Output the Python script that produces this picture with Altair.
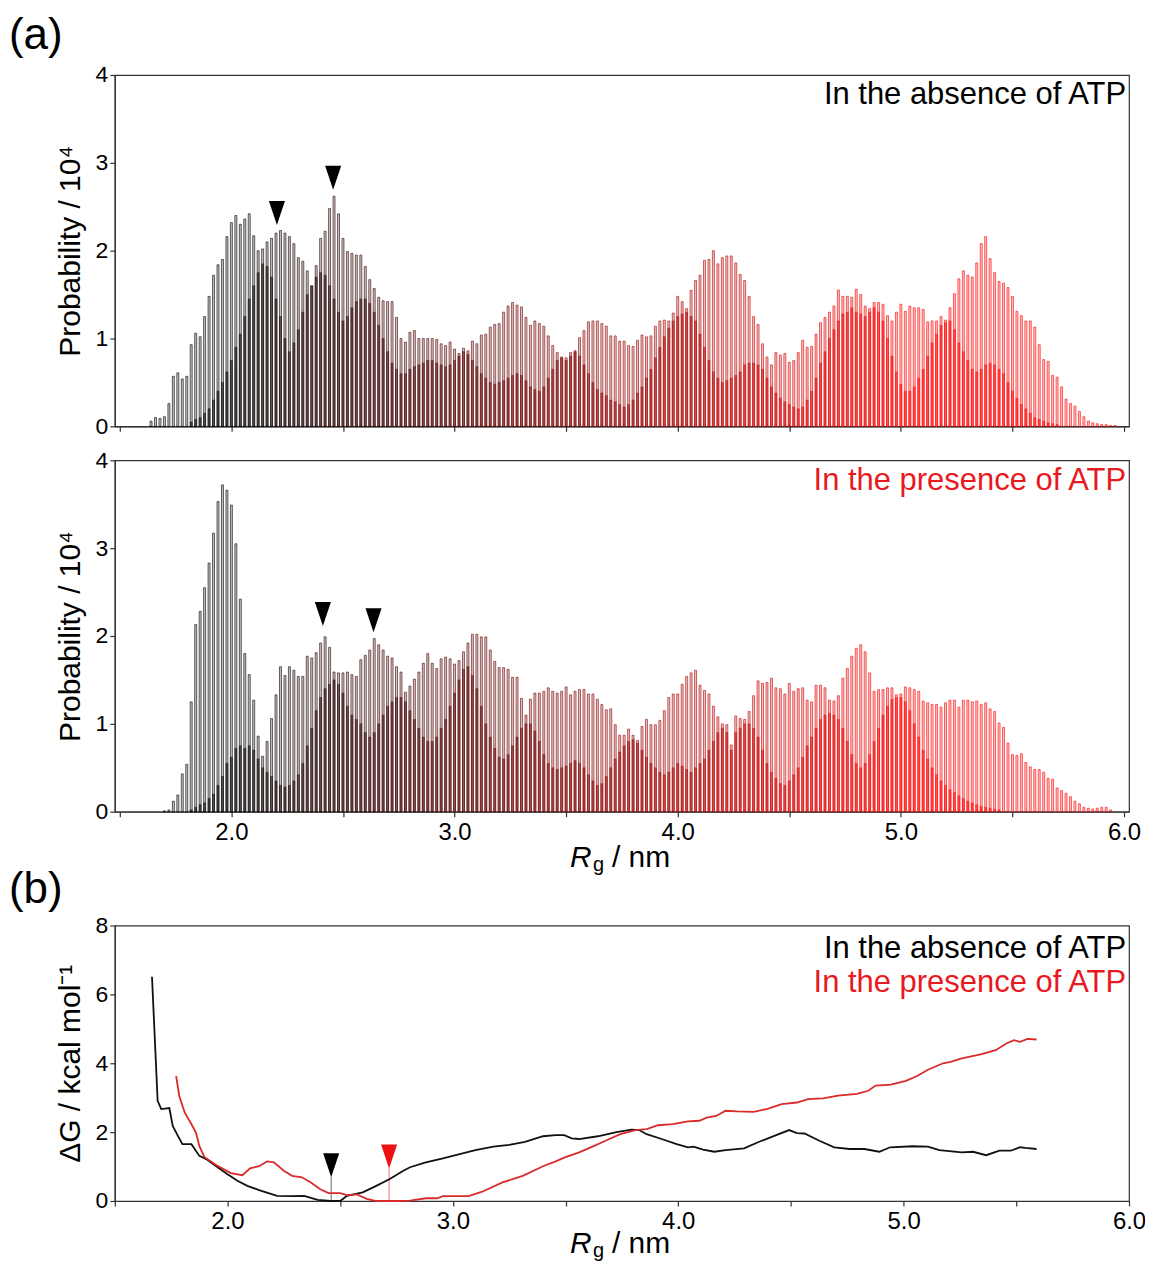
import altair as alt
import pandas as pd

FONT = "Liberation Sans"
W = 1016
H_HIST = 352
H_DG = 276

# ---------------- data ----------------
BIN_WIDTH = 0.02
TOP_START = 1.64   # first bin centre (nm), panel "absence of ATP"
MID_START = 1.70   # first bin centre (nm), panel "presence of ATP"

# tallest bar in every bin (probability / 1e4)
TOP_ENV = [
    0.06, 0.10, 0.09, 0.11, 0.26, 0.57, 0.61, 0.54, 0.57, 0.93,   # 1.64
    1.06, 1.02, 1.25, 1.48, 1.72, 1.84, 1.90, 2.16, 2.32, 2.40,   # 1.84
    2.30, 2.36, 2.42, 2.17, 2.00, 2.02, 2.10, 2.14, 2.20, 2.23,   # 2.04
    2.20, 2.16, 2.08, 1.92, 1.88, 1.77, 1.60, 1.83, 2.14, 2.22,   # 2.24
    2.48, 2.62, 2.42, 2.14, 1.99, 1.97, 1.95, 1.95, 1.82, 1.67,   # 2.44
    1.57, 1.47, 1.43, 1.42, 1.42, 1.24, 1.00, 0.96, 1.07, 1.09,   # 2.64
    1.00, 1.00, 1.00, 1.00, 0.99, 0.94, 0.92, 0.96, 0.88, 0.83,   # 2.84
    0.89, 0.86, 0.97, 0.94, 1.04, 1.05, 1.13, 1.16, 1.17, 1.30,   # 3.04
    1.37, 1.41, 1.38, 1.36, 1.24, 1.15, 1.20, 1.17, 1.14, 1.03,   # 3.24
    0.92, 0.84, 0.79, 0.78, 0.84, 0.86, 1.01, 1.09, 1.19, 1.20,   # 3.44
    1.20, 1.17, 1.14, 1.03, 1.03, 0.97, 0.97, 0.92, 0.91, 0.98,   # 3.64
    1.04, 1.02, 1.03, 1.14, 1.20, 1.21, 1.20, 1.29, 1.48, 1.42,   # 3.84
    1.34, 1.55, 1.66, 1.72, 1.89, 1.90, 2.00, 1.85, 1.92, 1.94,   # 4.04
    1.94, 1.86, 1.73, 1.66, 1.48, 1.25, 1.16, 0.94, 0.79, 0.70,   # 4.24
    0.84, 0.81, 0.83, 0.73, 0.75, 0.84, 0.98, 0.90, 0.91, 1.05,   # 4.44
    1.18, 1.24, 1.30, 1.37, 1.55, 1.48, 1.48, 1.47, 1.56, 1.50,   # 4.64
    1.37, 1.34, 1.41, 1.41, 1.39, 1.26, 1.20, 1.30, 1.39, 1.31,   # 4.84
    1.37, 1.35, 1.35, 1.33, 1.19, 1.20, 1.20, 1.25, 1.21, 1.35,   # 5.04
    1.51, 1.68, 1.77, 1.72, 1.70, 1.86, 2.08, 2.16, 1.91, 1.75,   # 5.24
    1.65, 1.63, 1.58, 1.48, 1.31, 1.26, 1.20, 1.20, 1.13, 0.93,   # 5.44
    0.76, 0.74, 0.58, 0.56, 0.45, 0.31, 0.26, 0.23, 0.17, 0.11,   # 5.64
    0.06, 0.04, 0.03, 0.02, 0.02, 0.01, 0.01,                     # 5.84
]
# height of the darker, overlapped part of every bin
TOP_IN = [
    0, 0, 0, 0, 0, 0, 0, 0, 0, 0.05,
    0.08, 0.10, 0.15, 0.20, 0.30, 0.40, 0.50, 0.62, 0.75, 0.90,
    1.05, 1.25, 1.45, 1.60, 1.75, 1.85, 1.82, 1.70, 1.45, 1.25,
    1.00, 0.85, 0.95, 1.10, 1.30, 1.50, 1.60, 1.70, 1.75, 1.72,
    1.60, 1.45, 1.30, 1.20, 1.25, 1.35, 1.42, 1.45, 1.45, 1.40,
    1.30, 1.15, 1.00, 0.85, 0.72, 0.65, 0.60, 0.60, 0.65, 0.68,
    0.70, 0.72, 0.75, 0.75, 0.72, 0.70, 0.68, 0.70, 0.75, 0.80,
    0.85, 0.82, 0.75, 0.68, 0.60, 0.55, 0.50, 0.48, 0.50, 0.52,
    0.55, 0.58, 0.60, 0.58, 0.52, 0.45, 0.42, 0.40, 0.45, 0.55,
    0.65, 0.75, 0.78, 0.75, 0.80, 0.85, 0.80, 0.70, 0.60, 0.50,
    0.42, 0.38, 0.35, 0.30, 0.28, 0.25, 0.22, 0.25, 0.30, 0.38,
    0.45, 0.55, 0.65, 0.78, 0.90, 1.02, 1.12, 1.20, 1.25, 1.28,
    1.30, 1.25, 1.20, 1.05, 0.90, 0.75, 0.62, 0.55, 0.50, 0.52,
    0.55, 0.58, 0.62, 0.70, 0.72, 0.72, 0.70, 0.65, 0.55, 0.45,
    0.38, 0.32, 0.28, 0.25, 0.22, 0.20, 0.22, 0.30, 0.40, 0.55,
    0.72, 0.85, 1.00, 1.10, 1.20, 1.28, 1.30, 1.35, 1.30, 1.28,
    1.25, 1.30, 1.35, 1.30, 1.20, 1.00, 0.80, 0.62, 0.48, 0.40,
    0.40, 0.45, 0.55, 0.65, 0.80, 0.95, 1.05, 1.15, 1.18, 1.20,
    1.10, 0.95, 0.85, 0.75, 0.65, 0.62, 0.65, 0.70, 0.72, 0.70,
    0.65, 0.60, 0.50, 0.40, 0.32, 0.25, 0.20, 0.15, 0.10, 0.08,
    0.06, 0.04, 0.03, 0.02, 0, 0, 0, 0, 0, 0,
    0, 0, 0, 0, 0, 0, 0,
]
MID_ENV = [
    0.01, 0.02, 0.12, 0.19, 0.43, 0.54, 1.25, 2.13, 2.28, 2.55,   # 1.70
    2.83, 3.17, 3.53, 3.72, 3.66, 3.49, 3.05, 2.42, 1.80, 1.56,   # 1.90
    1.27, 0.86, 0.63, 0.80, 1.06, 1.33, 1.65, 1.55, 1.65, 1.61,   # 2.10
    1.54, 1.54, 1.77, 1.75, 1.81, 1.92, 1.99, 1.87, 1.59, 1.58,   # 2.30
    1.58, 1.59, 1.56, 1.54, 1.73, 1.78, 1.84, 1.97, 1.90, 1.84,   # 2.50
    1.77, 1.75, 1.65, 1.59, 1.36, 1.43, 1.51, 1.59, 1.69, 1.80,   # 2.70
    1.69, 1.63, 1.74, 1.76, 1.74, 1.68, 1.72, 1.82, 1.92, 2.02,   # 2.90
    2.02, 1.99, 1.99, 1.84, 1.71, 1.64, 1.64, 1.62, 1.53, 1.53,   # 3.10
    1.29, 1.10, 1.28, 1.35, 1.35, 1.37, 1.41, 1.37, 1.35, 1.37,   # 3.30
    1.42, 1.33, 1.37, 1.39, 1.39, 1.34, 1.34, 1.28, 1.22, 1.16,   # 3.50
    1.17, 0.99, 0.87, 0.87, 0.94, 0.87, 0.81, 0.97, 1.05, 0.99,   # 3.70
    0.99, 1.04, 1.15, 1.30, 1.34, 1.34, 1.45, 1.54, 1.58, 1.61,   # 3.90
    1.44, 1.38, 1.34, 1.20, 1.08, 1.00, 0.99, 0.76, 1.09, 1.06,   # 4.10
    1.05, 1.14, 1.32, 1.49, 1.46, 1.47, 1.52, 1.41, 1.40, 1.34,   # 4.30
    1.46, 1.37, 1.40, 1.41, 1.27, 1.25, 1.44, 1.44, 1.41, 1.27,   # 4.50
    1.26, 1.32, 1.52, 1.63, 1.77, 1.86, 1.90, 1.82, 1.58, 1.37,   # 4.70
    1.39, 1.39, 1.41, 1.41, 1.33, 1.34, 1.42, 1.41, 1.39, 1.37,   # 4.90
    1.26, 1.24, 1.22, 1.22, 1.19, 1.24, 1.27, 1.27, 1.19, 1.27,   # 5.10
    1.27, 1.25, 1.26, 1.22, 1.24, 1.17, 1.14, 1.01, 0.96, 0.78,   # 5.30
    0.65, 0.64, 0.66, 0.56, 0.51, 0.48, 0.48, 0.45, 0.38, 0.37,   # 5.50
    0.27, 0.24, 0.21, 0.17, 0.12, 0.09, 0.05, 0.04, 0.03, 0.04,   # 5.70
    0.05, 0.05, 0.02,                                             # 5.90
]
MID_IN = [
    0, 0, 0, 0, 0, 0, 0.02, 0.05, 0.08, 0.10,
    0.15, 0.20, 0.30, 0.40, 0.55, 0.62, 0.72, 0.75, 0.72, 0.75,
    0.70, 0.60, 0.50, 0.45, 0.40, 0.35, 0.30, 0.28, 0.30, 0.35,
    0.42, 0.55, 0.75, 0.95, 1.15, 1.30, 1.40, 1.45, 1.50, 1.45,
    1.35, 1.20, 1.10, 1.05, 1.00, 0.90, 0.85, 0.90, 1.00, 1.10,
    1.20, 1.25, 1.30, 1.30, 1.25, 1.15, 1.05, 0.95, 0.85, 0.80,
    0.80, 0.85, 0.95, 1.05, 1.20, 1.35, 1.50, 1.62, 1.65, 1.55,
    1.40, 1.20, 1.00, 0.85, 0.72, 0.62, 0.60, 0.65, 0.75, 0.85,
    0.95, 1.00, 1.00, 0.92, 0.80, 0.65, 0.55, 0.50, 0.48, 0.50,
    0.52, 0.55, 0.58, 0.55, 0.50, 0.42, 0.35, 0.30, 0.32, 0.40,
    0.50, 0.60, 0.68, 0.75, 0.80, 0.82, 0.78, 0.70, 0.62, 0.55,
    0.50, 0.45, 0.42, 0.45, 0.50, 0.55, 0.52, 0.48, 0.45, 0.50,
    0.55, 0.60, 0.70, 0.80, 0.90, 0.95, 0.90, 0.70, 0.90, 0.95,
    1.00, 1.00, 0.95, 0.85, 0.70, 0.55, 0.45, 0.38, 0.32, 0.30,
    0.35, 0.42, 0.50, 0.62, 0.75, 0.85, 0.95, 1.05, 1.10, 1.12,
    1.10, 1.05, 0.95, 0.80, 0.65, 0.55, 0.50, 0.55, 0.65, 0.80,
    0.95, 1.10, 1.20, 1.28, 1.30, 1.30, 1.25, 1.15, 1.00, 0.85,
    0.70, 0.60, 0.50, 0.42, 0.35, 0.30, 0.25, 0.22, 0.18, 0.15,
    0.12, 0.10, 0.08, 0.06, 0.05, 0.04, 0.03, 0.02, 0, 0,
    0, 0, 0, 0, 0, 0, 0, 0, 0, 0,
    0, 0, 0, 0, 0, 0, 0, 0, 0, 0,
    0, 0, 0,
]

# free-energy profiles (kcal/mol)
DG_ABS_X = [1.665, 1.69, 1.706, 1.742, 1.757, 1.78, 1.80, 1.84, 1.875, 1.91,
            1.956, 2.0, 2.044, 2.088, 2.147, 2.22, 2.28, 2.34, 2.40, 2.456,
            2.50, 2.53, 2.60, 2.66, 2.72, 2.78, 2.81, 2.88, 2.956, 3.03,
            3.10, 3.18, 3.25, 3.32, 3.40, 3.456, 3.494, 3.527, 3.56, 3.643,
            3.726, 3.793, 3.826, 3.86, 3.926, 3.993, 4.043, 4.068, 4.11, 4.16,
            4.21, 4.292, 4.359, 4.426, 4.492, 4.526, 4.56, 4.626, 4.692, 4.76,
            4.826, 4.892, 4.94, 5.04, 5.108, 5.158, 5.258, 5.308, 5.366, 5.425,
            5.475, 5.516, 5.54, 5.59]
DG_ABS_Y = [6.51, 2.91, 2.67, 2.70, 2.18, 1.89, 1.65, 1.65, 1.31, 1.20,
            0.98, 0.78, 0.59, 0.44, 0.30, 0.15, 0.14, 0.15, 0.03, 0.0,
            0.0, 0.15, 0.25, 0.44, 0.64, 0.88, 0.98, 1.12, 1.24, 1.36,
            1.48, 1.58, 1.63, 1.72, 1.88, 1.91, 1.91, 1.82, 1.80, 1.88,
            2.00, 2.07, 2.06, 1.94, 1.80, 1.65, 1.56, 1.58, 1.49, 1.43,
            1.48, 1.53, 1.72, 1.89, 2.06, 1.97, 1.96, 1.75, 1.56, 1.51,
            1.51, 1.43, 1.56, 1.59, 1.58, 1.48, 1.41, 1.43, 1.33, 1.46,
            1.46, 1.56, 1.54, 1.51]
DG_PRES_X = [1.772, 1.786, 1.81, 1.84, 1.86, 1.875, 1.897, 1.956, 2.015, 2.066,
             2.10, 2.14, 2.176, 2.206, 2.25, 2.287, 2.33, 2.37, 2.41, 2.448,
             2.50, 2.53, 2.574, 2.618, 2.66, 2.765, 2.81, 2.88, 2.93, 2.956,
             3.07, 3.13, 3.22, 3.31, 3.40, 3.456, 3.494, 3.56, 3.627, 3.677,
             3.743, 3.81, 3.86, 3.91, 3.976, 4.043, 4.093, 4.126, 4.168, 4.21,
             4.26, 4.334, 4.392, 4.459, 4.526, 4.576, 4.642, 4.709, 4.793, 4.843,
             4.876, 4.943, 5.01, 5.06, 5.108, 5.175, 5.208, 5.258, 5.342, 5.408,
             5.458, 5.49, 5.516, 5.55, 5.59]
DG_PRES_Y = [3.63, 3.05, 2.57, 2.23, 1.99, 1.60, 1.28, 1.02, 0.81, 0.75,
             0.95, 1.01, 1.15, 1.12, 0.88, 0.73, 0.69, 0.54, 0.35, 0.23,
             0.23, 0.17, 0.19, 0.06, 0.0, 0.0, 0.01, 0.08, 0.08, 0.14,
             0.14, 0.27, 0.54, 0.73, 1.01, 1.15, 1.26, 1.41, 1.60, 1.75,
             1.94, 2.06, 2.09, 2.20, 2.23, 2.31, 2.33, 2.42, 2.47, 2.62,
             2.60, 2.59, 2.67, 2.81, 2.86, 2.96, 2.98, 3.06, 3.11, 3.20,
             3.35, 3.38, 3.49, 3.63, 3.81, 4.00, 4.04, 4.14, 4.26, 4.38,
             4.58, 4.67, 4.62, 4.71, 4.69]

# arrowheads (data coordinates of their centres)
TOP_ARROW_X = [2.204, 2.456]
TOP_ARROW_Y = [2.43, 2.83]
MID_ARROW_X = [2.41, 2.637]
MID_ARROW_Y = [2.25, 2.18]
DG_ARROW_X = [2.46, 2.717]
DG_ARROW_Y = [1.04, 1.29]
DG_ARROW_STEM = [0.70, 0.96]
DG_ARROW_COLOR = ["#000000", "#ee1111"]

X_TICKS = [1.5, 2.0, 2.5, 3.0, 3.5, 4.0, 4.5, 5.0, 5.5, 6.0]
RED = "#e8191f"
LINE_RED = "#d92b2b"
TRI = "M-0.67,-1L0.67,-1L0,1Z"

# ---------------- helpers ----------------
ONE = pd.DataFrame({"k": [0]})
XSCALE = alt.Scale(domain=[1.5, 6.0], nice=False, zero=False)
CSCALE = alt.Scale(domain=[2.0, 5.0], range=["#000000", "#ff0000"],
                   interpolate="rgb", clamp=True)


def x_axis(show_labels):
    return alt.Axis(values=X_TICKS, labels=show_labels, title=None, grid=False,
                    labelExpr="datum.value % 1 == 0 ? format(datum.value, '.1f') : ''",
                    tickSize=5, labelPadding=4, labelFontSize=24,
                    labelFlush=False, labelOverlap=False)


def y_axis(title, values):
    return alt.Axis(values=values, title=title, grid=False, format="d",
                    tickSize=5, labelPadding=2, labelFontSize=23,
                    titleFontSize=30, titleFontWeight="normal", titlePadding=10)


def text(t, x, y, size, color="#000000", align="left", **kw):
    return alt.Chart(ONE).mark_text(text=t, align=align, baseline="alphabetic",
                                    font=FONT, fontSize=size, color=color, **kw
                                    ).encode(x=alt.value(x), y=alt.value(y))


def rg_title(y):
    return [text("R", 456, y, 30, fontStyle="italic"),
            text("g", 479, y + 4, 20),
            text("/ nm", 498, y, 30)]


def hist_panel(env, inner, start, show_labels, arrows_x, arrows_y, extra):
    xs = [round(start + BIN_WIDTH * i, 2) for i in range(len(env))]
    env_df = pd.DataFrame({"rg": xs, "p": env})
    in_df = pd.DataFrame({"rg": xs, "p": inner})
    enc = dict(
        x=alt.X("rg:Q", scale=XSCALE, axis=x_axis(show_labels)),
        y=alt.Y("p:Q", scale=alt.Scale(domain=[0, 4], nice=False),
                axis=y_axis("Probability / 10⁴", [0, 1, 2, 3, 4])),
        fill=alt.Fill("rg:Q", scale=CSCALE, legend=None),
        stroke=alt.Stroke("rg:Q", scale=CSCALE, legend=None),
    )
    env_layer = alt.Chart(env_df).transform_filter("datum.p > 0").mark_bar(
        orient="vertical", width=2.0, fillOpacity=0.25, strokeWidth=0.7,
        strokeOpacity=0.85).encode(**enc)
    in_layer = alt.Chart(in_df).transform_filter("datum.p > 0").mark_bar(
        orient="vertical", width=2.0, fillOpacity=0.55, strokeWidth=0.7,
        strokeOpacity=0.6).encode(x="rg:Q", y="p:Q",
                                  fill=alt.Fill("rg:Q", scale=CSCALE, legend=None),
                                  stroke=alt.Stroke("rg:Q", scale=CSCALE, legend=None))
    tri = alt.Chart(pd.DataFrame({"rg": arrows_x, "p": arrows_y})).mark_point(
        shape=TRI, size=576, filled=True, color="#000000", opacity=1
    ).encode(x="rg:Q", y="p:Q")
    return alt.layer(env_layer, in_layer, tri, *extra).properties(width=W, height=H_HIST)


top = hist_panel(TOP_ENV, TOP_IN, TOP_START, False, TOP_ARROW_X, TOP_ARROW_Y,
                 [text("(a)", -106, -26, 44),
                  text("In the absence of ATP", 1013, 29, 31, align="right")])

mid = hist_panel(MID_ENV, MID_IN, MID_START, True, MID_ARROW_X, MID_ARROW_Y,
                 [text("In the presence of ATP", 1013, 30, 31, color=RED, align="right")]
                 + rg_title(407))

spacer = alt.Chart(ONE).mark_point(opacity=0).encode(
    x=alt.value(0), y=alt.value(0)
).properties(width=W, height=46, view=alt.ViewBackground(strokeOpacity=0))

abs_df = pd.DataFrame({"rg": DG_ABS_X, "g": DG_ABS_Y})
pres_df = pd.DataFrame({"rg": DG_PRES_X, "g": DG_PRES_Y})
arr_df = pd.DataFrame({"rg": DG_ARROW_X, "g": DG_ARROW_Y, "g0": [0, 0],
                       "g1": DG_ARROW_STEM, "c": DG_ARROW_COLOR})

abs_line = alt.Chart(abs_df).mark_line(color="#111111", strokeWidth=1.8).encode(
    x=alt.X("rg:Q", scale=XSCALE, axis=x_axis(True)),
    y=alt.Y("g:Q", scale=alt.Scale(domain=[0, 8], nice=False),
            axis=y_axis("ΔG / kcal mol⁻¹", [0, 2, 4, 6, 8])),
)
pres_line = alt.Chart(pres_df).mark_line(color=LINE_RED, strokeWidth=1.8).encode(
    x="rg:Q", y="g:Q")
stems = alt.Chart(arr_df).mark_rule(strokeWidth=1, opacity=0.6).encode(
    x="rg:Q", y="g0:Q", y2="g1:Q", color=alt.Color("c:N", scale=None))
dg_tri = alt.Chart(arr_df).mark_point(shape=TRI, size=576, filled=True, opacity=1).encode(
    x="rg:Q", y="g:Q", color=alt.Color("c:N", scale=None))

bottom = alt.layer(
    stems, abs_line, pres_line, dg_tri,
    text("(b)", -106, -23, 44),
    text("In the absence of ATP", 1013, 33, 31, align="right"),
    text("In the presence of ATP", 1013, 67, 31, color=RED, align="right"),
    *rg_title(328),
).properties(width=W, height=H_DG)

chart = alt.vconcat(top, mid, spacer, bottom, spacing=34, bounds="flush").properties(
    padding={"left": 0, "top": 4, "right": -2, "bottom": 0}
).configure_axis(
    labelFont=FONT, titleFont=FONT, labelColor="#000000", titleColor="#000000",
    domainColor="#333333", tickColor="#333333", domainWidth=1.2, tickWidth=1.2,
).configure_view(stroke="#333333", strokeWidth=1.2)

chart.save("out.html", embed_options={"renderer": "svg", "actions": False})
